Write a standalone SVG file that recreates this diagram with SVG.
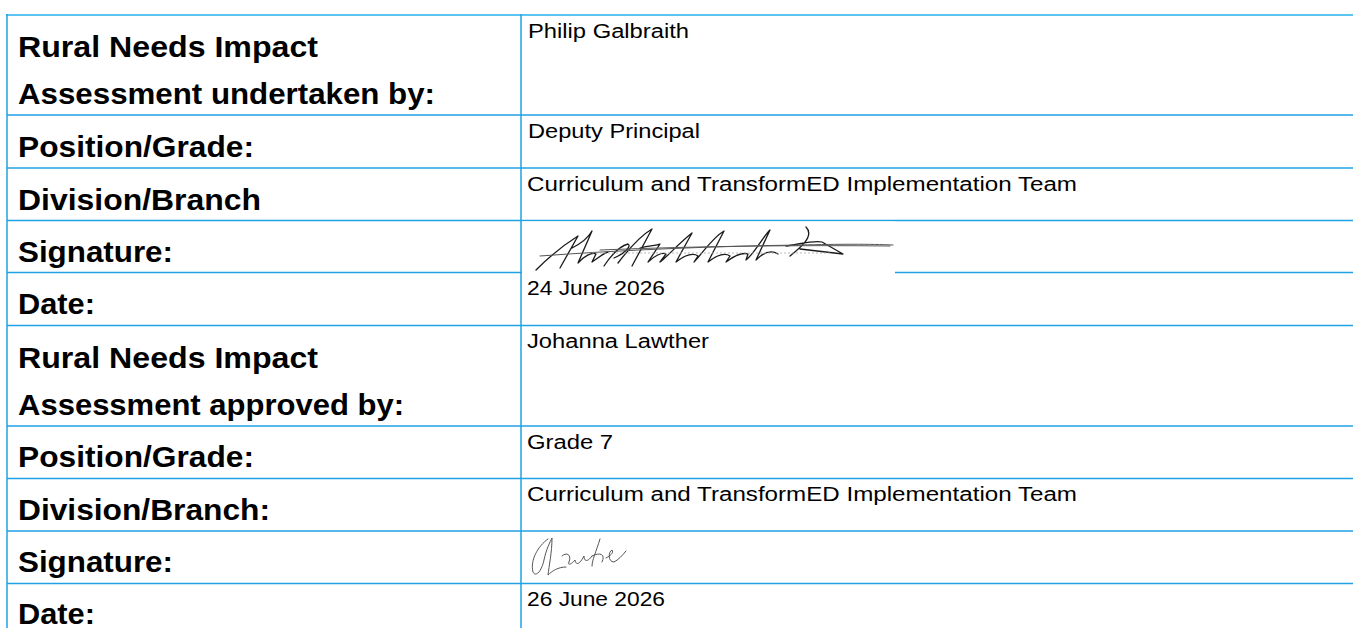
<svg xmlns="http://www.w3.org/2000/svg" width="1353" height="628" viewBox="0 0 1353 628">
<style>
.lbl{font-family:"Liberation Sans",Arial,sans-serif;font-weight:bold;font-size:29px;fill:#000}
.val{font-family:"Liberation Sans",Arial,sans-serif;font-size:20px;fill:#000}
.grid{stroke:#1fa2e4;stroke-width:1.5;fill:none}
.top{stroke:#5bc4f1;stroke-width:2;fill:none}
.sig{fill:none;stroke:#1a1a1a;stroke-width:1.3;stroke-linecap:round;stroke-linejoin:round}
.sig2{fill:none;stroke:#555;stroke-width:1;stroke-linecap:round;stroke-linejoin:round}
</style>
<rect width="1353" height="628" fill="#fff"/>
<g id="connectors">
<line class="top" x1="6" y1="15" x2="1353" y2="15"/>
<line class="grid" x1="7" y1="115" x2="1353" y2="115"/>
<line class="grid" x1="7" y1="168" x2="1353" y2="168"/>
<line class="grid" x1="7" y1="220.5" x2="1353" y2="220.5"/>
<line class="grid" x1="7" y1="272.5" x2="1353" y2="272.5"/>
<line class="grid" x1="7" y1="325.5" x2="1353" y2="325.5"/>
<line class="grid" x1="7" y1="426" x2="1353" y2="426"/>
<line class="grid" x1="7" y1="478.5" x2="1353" y2="478.5"/>
<line class="grid" x1="7" y1="531" x2="1353" y2="531"/>
<line class="grid" x1="7" y1="583.5" x2="1353" y2="583.5"/>
</g>
<g id="sig1-mask"><rect x="522" y="221.5" width="373" height="52.5" fill="#fff"/></g>
<g id="verticals">
<line class="grid" x1="7" y1="14" x2="7" y2="628"/>
<line class="grid" x1="521" y1="14" x2="521" y2="628"/>
</g>
<g id="row1"><text class="lbl" x="18" y="57" textLength="300" lengthAdjust="spacingAndGlyphs">Rural Needs Impact</text><text class="lbl" x="18" y="104" textLength="417" lengthAdjust="spacingAndGlyphs">Assessment undertaken by:</text><text class="val" x="528" y="38" textLength="161" lengthAdjust="spacingAndGlyphs">Philip Galbraith</text></g>
<g id="row2"><text class="lbl" x="18" y="157" textLength="236" lengthAdjust="spacingAndGlyphs">Position/Grade:</text><text class="val" x="528" y="138" textLength="172" lengthAdjust="spacingAndGlyphs">Deputy Principal</text></g>
<g id="row3"><text class="lbl" x="18" y="210" textLength="243" lengthAdjust="spacingAndGlyphs">Division/Branch</text><text class="val" x="527" y="191" textLength="550" lengthAdjust="spacingAndGlyphs">Curriculum and TransformED Implementation Team</text></g>
<g id="row4"><text class="lbl" x="18" y="262" textLength="155" lengthAdjust="spacingAndGlyphs">Signature:</text>
<g id="signature1">
<path class="sig" d="M536,270 C548,258 562,246 578,236 M578,236 L560,268 M572,248 C580,244 588,238 592,231 L578,263 C584,256 592,252 596,254 L592,262 C598,258 604,253 608,252"/>
<path class="sig" d="M604,266 C612,254 620,246 628,244 C632,246 624,254 614,258 M618,263 C628,250 640,236 652,229 L632,266 M640,248 C650,245 656,246 660,244 L648,262 C654,256 662,252 666,254 L660,262 C668,256 678,244 692,233 L676,262 C684,256 692,252 698,256 L694,262 C702,254 712,238 724,231 L708,262 C716,256 724,252 730,256 L726,262 C734,256 742,252 748,254 L746,260 C754,254 762,238 770,230 L756,260 C764,252 772,250 778,254"/>
<path class="sig" d="M790,256 C800,248 815,236 806,227 M786,246 C800,244 815,240 822,242 L843,254 L800,249"/>
<path class="sig2" d="M540,256 C620,250 720,246 800,245 C840,244 870,244 893,245 M600,250 C700,246 800,245 890,246"/>
<path fill="none" stroke="#aaa" stroke-width="0.8" stroke-dasharray="2 2" d="M592,253 L830,253"/>
</g></g>
<g id="row5"><text class="lbl" x="18" y="314" textLength="77" lengthAdjust="spacingAndGlyphs">Date:</text><text class="val" x="527" y="295" textLength="138" lengthAdjust="spacingAndGlyphs">24 June 2026</text></g>
<g id="row6"><text class="lbl" x="18" y="368" textLength="300" lengthAdjust="spacingAndGlyphs">Rural Needs Impact</text><text class="lbl" x="18" y="415" textLength="386" lengthAdjust="spacingAndGlyphs">Assessment approved by:</text><text class="val" x="527" y="348" textLength="182" lengthAdjust="spacingAndGlyphs">Johanna Lawther</text></g>
<g id="row7"><text class="lbl" x="18" y="467" textLength="236" lengthAdjust="spacingAndGlyphs">Position/Grade:</text><text class="val" x="527" y="449" textLength="86" lengthAdjust="spacingAndGlyphs">Grade 7</text></g>
<g id="row8"><text class="lbl" x="18" y="520" textLength="252" lengthAdjust="spacingAndGlyphs">Division/Branch:</text><text class="val" x="527" y="501" textLength="550" lengthAdjust="spacingAndGlyphs">Curriculum and TransformED Implementation Team</text></g>
<g id="row9"><text class="lbl" x="18" y="572" textLength="155" lengthAdjust="spacingAndGlyphs">Signature:</text>
<g id="signature2">
<path class="sig2" d="M548,539 C538,546 530,560 533,572 C536,578 542,570 544,560 C546,550 550,542 552,538 C552,552 549,566 548,575 C552,571 558,567 566,567 M562,556 C566,552 572,554 569,562 C567,566 572,564 575,560 C576,566 580,564 584,556 C584,562 588,562 592,556 M600,539 C596,552 592,560 592,566 M592,556 C600,552 606,554 602,562 M606,558 C610,556 614,553 612,550 C608,552 608,562 614,562 C618,560 622,556 626,551"/>
</g></g>
<g id="row10"><text class="lbl" x="18" y="624" textLength="77" lengthAdjust="spacingAndGlyphs">Date:</text><text class="val" x="527" y="606" textLength="138" lengthAdjust="spacingAndGlyphs">26 June 2026</text></g>
</svg>
